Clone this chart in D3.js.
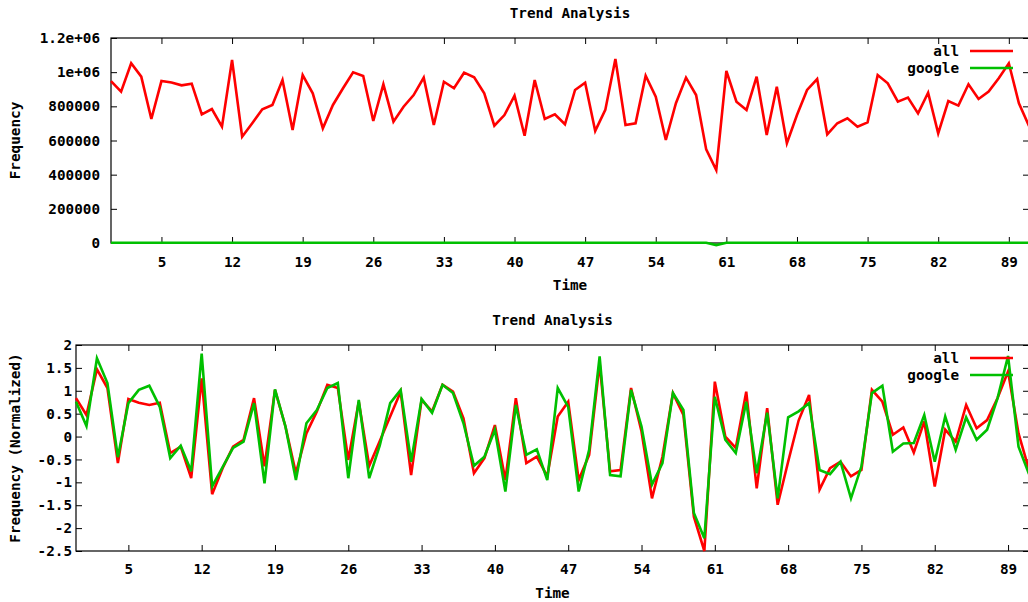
<!DOCTYPE html>
<html>
<head>
<meta charset="utf-8">
<script src="https://cdn.jsdelivr.net/npm/d3@7/dist/d3.min.js"></script>
<style>
  body { margin: 0; background: #fff; }
  svg { display: block; }
  text { font-family: "DejaVu Sans Mono", monospace; font-weight: bold; font-size: 14.3px; fill: #000; }
</style>
</head>
<body>
<figure id="chart" style="margin:0"></figure>
<script>
// time index for each sample is its position in the arrays (0..91)
const xTicks = [5, 12, 19, 26, 33, 40, 47, 54, 61, 68, 75, 82, 89];

// raw frequency (top chart)
const allRaw = [
  948000, 886000, 1052000, 974000, 726000, 948000, 940000, 923000, 933000, 753000,
  784000, 681000, 1071000, 622000, 701000, 783000, 808000, 954000, 661000, 983000,
  876000, 671000, 808000, 906000, 999000, 978000, 714000, 929000, 710000, 798000,
  866000, 968000, 691000, 944000, 906000, 997000, 970000, 876000, 687000, 749000,
  862000, 628000, 954000, 726000, 753000, 695000, 896000, 938000, 656000, 779000,
  1077000, 691000, 701000, 979000, 857000, 603000, 818000, 968000, 866000, 548000,
  427000, 1007000, 827000, 779000, 974000, 632000, 915000, 584000, 749000, 896000,
  960000, 636000, 701000, 730000, 681000, 706000, 983000, 935000, 827000, 851000,
  759000, 880000, 642000, 831000, 804000, 929000, 843000, 886000, 964000, 1052000,
  818000, 685000
];
const googleRaw = [
  1500, 1500, 1500, 1500, 1500, 1500, 1500, 1500, 1500, 1500,
  1500, 1500, 1500, 1500, 1500, 1500, 1500, 1500, 1500, 1500,
  1500, 1500, 1500, 1500, 1500, 1500, 1500, 1500, 1500, 1500,
  1500, 1500, 1500, 1500, 1500, 1500, 1500, 1500, 1500, 1500,
  1500, 1500, 1500, 1500, 1500, 1500, 1500, 1500, 1500, 1500,
  1500, 1500, 1500, 1500, 1500, 1500, 1500, 1500, 1500, 1500,
  -12000, 1500, 1500, 1500, 1500, 1500, 1500, 1500, 1500, 1500,
  1500, 1500, 1500, 1500, 1500, 1500, 1500, 1500, 1500, 1500,
  1500, 1500, 1500, 1500, 1500, 1500, 1500, 1500, 1500, 1500,
  1500, 1500
];
const rawTicks = [0, 200000, 400000, 600000, 800000, 1000000, 1200000];
const rawTickLabels = ["0", "200000", "400000", "600000", "800000", "1e+06", "1.2e+06"];

// normalized frequency (bottom chart)
const allNorm = [
  0.84, 0.47, 1.47, 1.06, -0.58, 0.82, 0.74, 0.69, 0.74, -0.36,
  -0.22, -0.91, 1.27, -1.26, -0.69, -0.22, -0.07, 0.84, -0.65, 1.02,
  0.22, -0.80, 0.07, 0.55, 1.13, 1.06, -0.51, 0.76, -0.64, -0.10,
  0.44, 0.98, -0.84, 0.80, 0.55, 1.13, 0.98, 0.40, -0.80, -0.47,
  0.25, -0.95, 0.84, -0.58, -0.44, -0.87, 0.44, 0.76, -0.95, -0.40,
  1.60, -0.76, -0.73, 1.06, 0.11, -1.35, -0.44, 0.95, 0.47, -1.75,
  -2.50, 1.20, 0.00, -0.25, 0.98, -1.13, 0.62, -1.49, -0.55, 0.35,
  0.91, -1.16, -0.69, -0.55, -0.87, -0.73, 1.02, 0.76, 0.04, 0.20,
  -0.35, 0.33, -1.09, 0.15, -0.11, 0.69, 0.18, 0.36, 0.84, 1.42,
  0.07, -0.72
];
const googleNorm = [
  0.76, 0.23, 1.71, 1.17, -0.45, 0.73, 1.02, 1.11, 0.65, -0.47,
  -0.20, -0.76, 1.81, -1.09, -0.67, -0.25, -0.11, 0.73, -1.02, 1.03,
  0.22, -0.95, 0.29, 0.58, 1.06, 1.17, -0.91, 0.80, -0.91, -0.20,
  0.73, 1.02, -0.55, 0.82, 0.52, 1.13, 0.95, 0.29, -0.64, -0.44,
  0.15, -1.20, 0.69, -0.40, -0.28, -0.95, 1.06, 0.65, -1.20, -0.29,
  1.75, -0.84, -0.87, 1.02, 0.22, -1.05, -0.58, 0.95, 0.58, -1.67,
  -2.22, 0.87, -0.07, -0.36, 0.76, -0.80, 0.52, -1.35, 0.42, 0.55,
  0.73, -0.73, -0.82, -0.55, -1.35, -0.65, 0.95, 1.11, -0.33, -0.15,
  -0.14, 0.47, -0.55, 0.44, -0.29, 0.42, -0.07, 0.15, 0.84, 1.76,
  -0.22, -0.82
];
const normTicks = [-2.5, -2, -1.5, -1, -0.5, 0, 0.5, 1, 1.5, 2];

const seriesNames = ["all", "google"];
const colors = ["#ff0000", "#00c000"];

const svg = d3.select("figure#chart")
  .append("svg")
  .attr("width", 1028)
  .attr("height", 602);

function drawPanel(opt) {
  const { left, right, top, bottom } = opt;
  const g = svg.append("g");

  const x = d3.scaleLinear().domain([0, 91]).range([left, right]);
  const y = d3.scaleLinear().domain(opt.yDomain).range([bottom, top]);

  // title
  g.append("text")
    .attr("x", (left + right) / 2).attr("y", top - 20)
    .attr("text-anchor", "middle")
    .text("Trend Analysis");

  // axes with inward ticks, mirrored on top/right
  const tick = 6;
  g.append("g")
    .attr("transform", "translate(0," + bottom + ")")
    .call(d3.axisBottom(x).tickValues(xTicks).tickSizeInner(-tick).tickSizeOuter(0).tickPadding(opt.xPad));
  g.append("g")
    .attr("transform", "translate(0," + top + ")")
    .call(d3.axisTop(x).tickValues(xTicks).tickSizeInner(-tick).tickSizeOuter(0).tickFormat(""));
  g.append("g")
    .attr("transform", "translate(" + left + ",0)")
    .call(d3.axisLeft(y).tickValues(opt.yTicks).tickSizeInner(-tick).tickSizeOuter(0)
      .tickPadding(opt.yPad).tickFormat((d, i) => opt.yLabels[i]));
  g.append("g")
    .attr("transform", "translate(" + right + ",0)")
    .call(d3.axisRight(y).tickValues(opt.yTicks).tickSizeInner(-tick).tickSizeOuter(0).tickFormat(""));

  g.selectAll(".tick line").attr("stroke", "#000");
  g.selectAll(".domain").remove();
  g.selectAll(".tick text")
    .style("font-family", "'DejaVu Sans Mono', monospace")
    .style("font-weight", "bold")
    .style("font-size", "14.3px")
    .attr("fill", "#000");

  g.append("rect")
    .attr("x", left).attr("y", top)
    .attr("width", right - left).attr("height", bottom - top)
    .attr("fill", "none").attr("stroke", "#000").attr("stroke-width", 1.2);

  // axis titles
  g.append("text")
    .attr("x", (left + right) / 2).attr("y", bottom + 47)
    .attr("text-anchor", "middle")
    .text("Time");
  g.append("text")
    .attr("transform", "translate(20," + (top + bottom) / 2 + ") rotate(-90)")
    .attr("text-anchor", "middle")
    .text(opt.yTitle);

  const line = d3.line()
    .x((d, i) => x(i))
    .y(d => y(d));

  opt.series.forEach((s, k) => {
    g.append("path")
      .datum(s)
      .attr("fill", "none")
      .attr("stroke", colors[k])
      .attr("stroke-width", 2.6)
      .attr("stroke-linejoin", "miter")
      .attr("d", line);
  });

  // key
  seriesNames.forEach((name, k) => {
    const ly = top + 13 + k * 17;
    g.append("text")
      .attr("x", 959).attr("y", ly + 5)
      .attr("text-anchor", "end")
      .text(name);
    g.append("line")
      .attr("x1", 970).attr("x2", 1013)
      .attr("y1", ly).attr("y2", ly)
      .attr("stroke", colors[k]).attr("stroke-width", 2.6);
  });
}

drawPanel({
  left: 111, right: 1029, top: 38, bottom: 243,
  yDomain: [0, 1200000], yTicks: rawTicks, yLabels: rawTickLabels,
  yPad: 11, xPad: 14, yTitle: "Frequency",
  series: [allRaw, googleRaw]
});

drawPanel({
  left: 76, right: 1029, top: 345, bottom: 551,
  yDomain: [-2.5, 2], yTicks: normTicks, yLabels: normTicks.map(d => String(d)),
  yPad: 4, xPad: 13, yTitle: "Frequency (Normalized)",
  series: [allNorm, googleNorm]
});
</script>
</body>
</html>
